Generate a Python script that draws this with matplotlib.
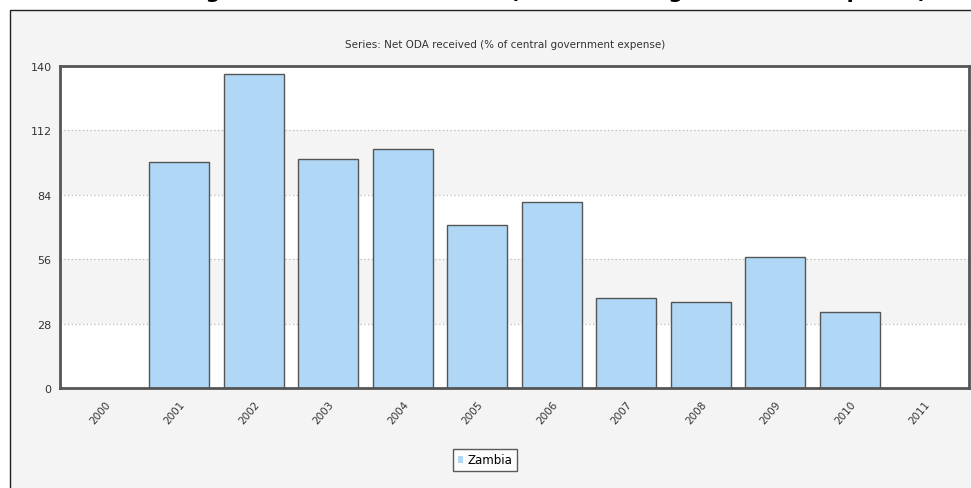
import numpy as np
import matplotlib
matplotlib.use("Agg")
import matplotlib.pyplot as plt
from matplotlib.patches import Rectangle

# data
years = ['2000', '2001', '2002', '2003', '2004', '2005', '2006', '2007', '2008', '2009', '2010', '2011']
oda_pct = [np.nan, 98.3, 136.5, 99.6, 103.9, 70.9, 80.9, 39.1, 37.4, 57.0, 33.0, np.nan]
yticks = [0, 28, 56, 84, 112, 140]

W, H = 971, 489
fig = plt.figure(figsize=(W/100, H/100), dpi=100)
fig.patch.set_facecolor('white')

# outer grey panel with thin border (runs off right/bottom edges)
panel = Rectangle((10/W, 0 - 0.01), 1.0, (H - 11)/H + 0.01, transform=fig.transFigure,
                  facecolor='#f4f4f4', edgecolor='#222222', linewidth=1.0, zorder=-5)
fig.patches.append(panel)

# clipped page title (only the bottom of the glyphs is visible)
fig.text(927/W, 1.0 + 2.5/H, 'Zambia - Foreign aid: Net ODA received (% of central government expense)',
         ha='right', va='baseline', fontsize=15, fontweight='bold', color='black')

# chart subtitle
fig.text(505/W, 1 - 45/H, 'Series: Net ODA received (% of central government expense)',
         ha='center', va='center', fontsize=7.5, color='#333333')

ax = fig.add_axes([60/W, (H - 389)/H, (968.7 - 60)/W, (389 - 67)/H])
ax.set_zorder(2)
ax.set_facecolor('white')

x = np.arange(len(years))
# alternating grey bands
for i in range(len(yticks) - 1):
    if i % 2 == 1:
        ax.axhspan(yticks[i], yticks[i+1], color='#f4f4f4', zorder=0, lw=0)
for t in yticks[1:-1]:
    ax.axhline(t, color='#bbbbbb', lw=0.9, ls=(0, (1, 2)), zorder=0.5)

ax.bar(x, oda_pct, width=0.805, color='#b0d8f6', edgecolor='#555555', linewidth=1.0,
       zorder=2, label='Zambia')

ax.set_xlim(-0.6, 11.6)
ax.set_ylim(0, 140)
ax.set_yticks(yticks)
ax.set_yticklabels([str(t) for t in yticks], fontsize=8, color='#333333')
ax.set_xticks(x)
ax.set_xticklabels(years, rotation=50, ha='right', rotation_mode='anchor',
                   fontsize=7.5, color='#333333')
ax.tick_params(axis='both', length=0, pad=6)
ax.tick_params(axis='x', pad=8)
for s in ax.spines.values():
    s.set_color('#555555')
    s.set_linewidth(2)

# legend box below chart
leg = fig.legend(handles=[Rectangle((0, 0), 1, 1, facecolor='#b0d8f6', edgecolor='none')],
                 labels=['Zambia'], loc='center', bbox_to_anchor=(485/W, 1 - 461/H),
                 fontsize=8.5, frameon=True, fancybox=False, handlelength=0.4, handleheight=0.6,
                 handletextpad=0.4, borderpad=0.4)
leg.get_frame().set_edgecolor('#333333')
leg.get_frame().set_facecolor('white')
leg.get_frame().set_linewidth(1.0)

fig.savefig('out.png', dpi=100)
